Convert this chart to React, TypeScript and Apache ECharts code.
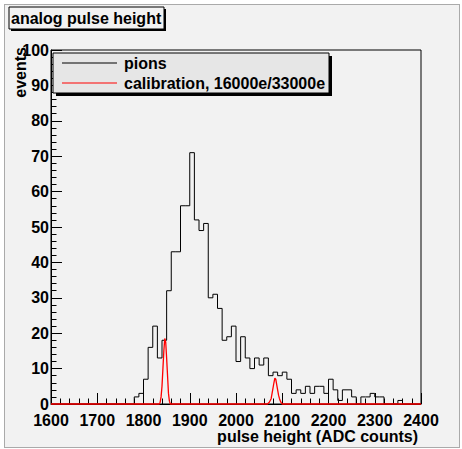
import React, { useEffect, useRef } from "react";
import * as echarts from "echarts";

// pions histogram: bin lower edges start at 1780, width 10 ADC counts
const pionBinStart = 1780;
const pionBinWidth = 10;
const pionCounts = [
  2, 3, 7, 16, 22, 13, 18, 32, 43, 43,
  56, 56, 71, 52, 49, 51, 30, 31, 27, 18,
  19, 22, 12, 19, 13, 10, 13, 11, 13, 8,
  9, 8, 9, 7, 3, 4, 3, 5, 3, 5,
  5, 3, 7, 4, 1, 4, 4, 2, 0, 2,
  2, 3, 2, 2, 0, 0, 0, 1,
];

// calibration curve (16000e / 33000e peaks)
const calibX = [
  1600, 1834, 1836, 1838, 1840, 1842, 1844, 1846, 1848, 1850, 1852, 1854, 1856, 1858,
  2068, 2072, 2076, 2078, 2080, 2082, 2084, 2086, 2088, 2090, 2092, 2094, 2096, 2098, 2100,
  2400,
];
const calibY = [
  0, 0, 0.5, 2, 5, 10, 15, 18.5, 17.5, 13, 8, 3, 0.8, 0,
  0, 0.5, 1.5, 3, 4.5, 6, 7.3, 7, 5.5, 4, 2.5, 1.5, 0.8, 0.3, 0,
  0,
];

const xMin = 1600;
const xMax = 2400;
const yMin = 0;
const yMax = 100;

const titleText = "analog pulse height";
const xTitle = "pulse height (ADC counts)";
const yTitle = "events";
const legendNames = ["pions", "calibration, 16000e/33000e"];

const FONT = "'Liberation Sans', Arial, Helvetica, sans-serif";

export default function App() {
  const ref = useRef<HTMLDivElement>(null);

  useEffect(() => {
    if (!ref.current) return;
    const chart = echarts.init(ref.current, undefined, { renderer: "svg" });

    const pionData: [number, number][] = [[xMin, 0]];
    pionCounts.forEach((c, i) => pionData.push([pionBinStart + i * pionBinWidth, c]));
    pionData.push([pionBinStart + pionCounts.length * pionBinWidth, 0]);
    pionData.push([xMax, 0]);

    const calibData = calibX.map((x, i) => [x, calibY[i]]);

    const axisCommon = {
      type: "value" as const,
      axisLine: { show: true, lineStyle: { color: "#000", width: 1 } },
      axisTick: { show: true, inside: true, length: 11, lineStyle: { color: "#000" } },
      minorTick: { show: true, splitNumber: 5, length: 5.5, lineStyle: { color: "#000" } },
      splitLine: { show: false },
      minorSplitLine: { show: false },
    };

    const labelCommon = {
      color: "#000",
      fontSize: 16,
      fontWeight: "bold" as const,
      fontFamily: FONT,
      showMinLabel: true,
      showMaxLabel: true,
      formatter: (v: number) => String(v),
    };

    chart.setOption({
      animation: false,
      grid: {
        left: 51,
        right: 41,
        top: 50,
        bottom: 45,
        show: true,
        borderColor: "#000",
        borderWidth: 1,
        backgroundColor: "transparent",
      },
      xAxis: {
        ...axisCommon,
        min: xMin,
        max: xMax,
        interval: 100,
        axisLabel: { ...labelCommon, margin: 8 },
      },
      yAxis: {
        ...axisCommon,
        min: yMin,
        max: yMax,
        interval: 10,
        axisLabel: { ...labelCommon, margin: 2 },
      },
      series: [
        {
          name: legendNames[0],
          type: "line",
          step: "end",
          data: pionData,
          showSymbol: false,
          symbol: "none",
          clip: false,
          lineStyle: { color: "#000", width: 1 },
          z: 2,
        },
        {
          name: legendNames[1],
          type: "line",
          data: calibData,
          showSymbol: false,
          symbol: "none",
          clip: false,
          lineStyle: { color: "#ff0000", width: 1.3 },
          z: 3,
        },
      ],
      graphic: [
        // title box
        { type: "rect", z: 100, shape: { x: 11, y: 9, width: 155, height: 22 }, style: { fill: "#000" } },
        { type: "rect", z: 101, shape: { x: 9, y: 7, width: 155, height: 22 }, style: { fill: "#f2f2f2", stroke: "#000", lineWidth: 1 } },
        {
          type: "text", z: 102, x: 11, y: 18,
          style: { text: titleText, fill: "#000", font: `bold 16px ${FONT}`, verticalAlign: "middle", align: "left" },
        },
        // legend box
        { type: "rect", z: 100, shape: { x: 56, y: 56, width: 276, height: 40 }, style: { fill: "#000" } },
        { type: "rect", z: 101, shape: { x: 53, y: 53, width: 276, height: 40 }, style: { fill: "#e6e6e6", stroke: "#000", lineWidth: 1 } },
        { type: "line", z: 102, shape: { x1: 62, y1: 63, x2: 117, y2: 63 }, style: { stroke: "#000", lineWidth: 1 } },
        { type: "line", z: 102, shape: { x1: 62, y1: 83, x2: 117, y2: 83 }, style: { stroke: "#ff0000", lineWidth: 1 } },
        {
          type: "text", z: 102, x: 124, y: 63,
          style: { text: legendNames[0], fill: "#000", font: `bold 16px ${FONT}`, verticalAlign: "middle", align: "left" },
        },
        {
          type: "text", z: 102, x: 124, y: 83,
          style: { text: legendNames[1], fill: "#000", font: `bold 16px ${FONT}`, verticalAlign: "middle", align: "left" },
        },
        // axis titles
        {
          type: "text", z: 102, x: 418, y: 436,
          style: { text: xTitle, fill: "#000", font: `bold 16px ${FONT}`, verticalAlign: "middle", align: "right" },
        },
        {
          type: "text", z: 102, x: 20, y: 47, rotation: Math.PI / 2,
          style: { text: yTitle, fill: "#000", font: `bold 16px ${FONT}`, verticalAlign: "middle", align: "right" },
        },
      ],
    });

    return () => chart.dispose();
  }, []);

  return (
    <div style={{ position: "absolute", left: 0, top: 0, width: 462, height: 449, background: "#ffffff" }}>
      <div
        style={{
          position: "absolute",
          left: 4,
          top: 4,
          width: 456,
          height: 444,
          background: "#f2f2f2",
          border: "1px solid #aaaaaa",
          boxSizing: "border-box",
        }}
      />
      <div ref={ref} style={{ position: "absolute", left: 0, top: 0, width: 462, height: 449 }} />
    </div>
  );
}
